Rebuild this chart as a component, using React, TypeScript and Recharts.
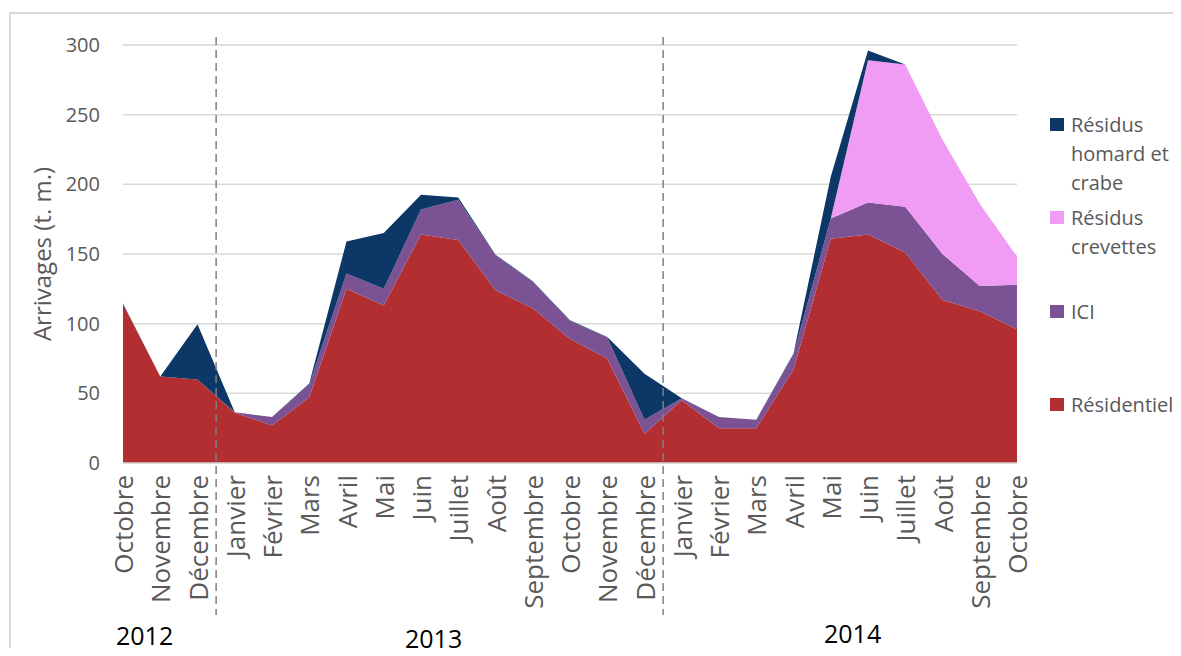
import React from 'react';
import { AreaChart, Area, XAxis, YAxis, CartesianGrid, ReferenceLine } from 'recharts';

const months = [
  'Octobre', 'Novembre', 'Décembre',
  'Janvier', 'Février', 'Mars', 'Avril', 'Mai', 'Juin', 'Juillet', 'Août', 'Septembre', 'Octobre', 'Novembre', 'Décembre',
  'Janvier', 'Février', 'Mars', 'Avril', 'Mai', 'Juin', 'Juillet', 'Août', 'Septembre', 'Octobre',
];

// t. m. par mois, empilées de bas en haut
const residentiel = [114, 62, 60, 36, 27, 47, 125, 113, 164, 160, 124, 111, 89, 75, 21, 45, 25, 25, 67, 161, 164, 151, 117, 109, 96];
const ici = [0, 0, 0, 0.5, 6, 9.5, 11, 12, 18, 29, 25, 19, 13, 15, 10, 1.5, 8, 6, 11, 14.5, 23, 33, 33, 18, 32];
const crevettes = [0, 0, 0, 0, 0, 0, 0, 0, 0, 0, 0, 0, 0, 0, 0, 0, 0, 0, 0, 0, 102, 102, 82, 59, 20];
const homard = [0.5, 0, 39.5, 0, 0, 0.5, 23, 40, 10.5, 1.5, 0.5, 0.5, 0.5, 0.5, 33, 0, 0, 0, 0.5, 30, 7, 0, 0, 0, 0];

const yTicks = [0, 50, 100, 150, 200, 250, 300];
const minorTicks = [0, 10, 20, 30, 40, 50, 60, 70, 80, 90, 100, 110, 120, 130, 140, 150, 160, 170, 180, 190, 200, 210, 220, 230, 240, 250, 260, 270, 280, 290, 300];
const yearBreaks = [2.5, 14.5];
const years = [
  { label: '2012', x: 116, y: 645 },
  { label: '2013', x: 405, y: 648 },
  { label: '2014', x: 824, y: 643 },
];

const series = [
  { key: 'Résidentiel', values: residentiel, color: '#B22E30' },
  { key: 'ICI', values: ici, color: '#7B5294' },
  { key: 'Résidus crevettes', values: crevettes, color: '#F09CF5' },
  { key: 'Résidus homard et crabe', values: homard, color: '#0C3766' },
];

const data = months.map((m, i) => {
  const row: Record<string, number | string> = { idx: i, month: m };
  series.forEach((s) => { row[s.key] = s.values[i]; });
  return row;
});

const FONT = '"Open Sans", sans-serif';
const GREY = '#595959';

const MonthTick = ({ x, y, payload }: any) => (
  <text
    x={x}
    y={y}
    transform={`rotate(-90 ${x} ${y})`}
    textAnchor="end"
    dominantBaseline="central"
    fill={GREY}
    fontSize={26}
    fontFamily={FONT}
  >
    {months[payload.value]}
  </text>
);

const DashedDivider = (props: any) => {
  const { x1, y1, y2 } = props;
  const top = Math.min(y1, y2);
  const bottom = Math.max(y1, y2);
  return (
    <line x1={x1} x2={x1} y1={top - 8} y2={bottom + 152} stroke="#808080" strokeWidth={1.5} strokeDasharray="8 5" />
  );
};

const App: React.FC = () => {
  const legendItems = [...series].reverse();
  return (
    <div style={{ position: 'relative', margin: -8, width: 1181, height: 656, overflow: 'hidden', fontFamily: FONT, background: '#fff' }}>
      <div style={{
        position: 'absolute', left: 9, top: 12, width: 2000, height: 2000,
        borderLeft: '2px solid #D9D9D9', borderTop: '2px solid #D9D9D9',
      }} />
      <AreaChart
        width={1181}
        height={656}
        data={data}
        margin={{ top: 45, right: 164, left: 63, bottom: 33 }}
        style={{ position: 'absolute', left: 0, top: 0 }}
      >
        <XAxis
          dataKey="idx"
          type="number"
          domain={[0, 24]}
          ticks={data.map((d) => d.idx as number)}
          interval={0}
          tick={<MonthTick />}
          tickLine={false}
          tickSize={0}
          tickMargin={12}
          axisLine={{ stroke: '#D9D9D9', strokeWidth: 1.5 }}
          height={160}
        />
        <YAxis
          yAxisId="main"
          domain={[0, 300]}
          ticks={yTicks}
          tickLine={false}
          axisLine={false}
          tickSize={0}
          tickMargin={23}
          width={60}
          tick={{ fill: GREY, fontSize: 20, fontFamily: FONT }}
          label={{ value: 'Arrivages (t. m.)', angle: -90, position: 'insideLeft', dx: -26, fill: GREY, fontSize: 24, fontFamily: FONT, style: { textAnchor: 'middle' } }}
        />
        <YAxis yAxisId="minor" hide domain={[0, 300]} ticks={minorTicks} />
        <CartesianGrid yAxisId="minor" vertical={false} stroke="#EFEFEF" strokeWidth={1.5} />
        <CartesianGrid yAxisId="main" vertical={false} stroke="#D9D9D9" strokeWidth={1.5} />
        {series.map((s) => (
          <Area
            key={s.key}
            yAxisId="main"
            type="linear"
            dataKey={s.key}
            stackId="a"
            stroke="none"
            fill={s.color}
            fillOpacity={1}
            dot={false}
            activeDot={false}
            isAnimationActive={false}
          />
        ))}
        {yearBreaks.map((b) => (
          <ReferenceLine key={b} x={b} yAxisId="main" ifOverflow="visible" shape={DashedDivider} />
        ))}
      </AreaChart>
      <svg width={1181} height={656} style={{ position: 'absolute', left: 0, top: 0, pointerEvents: 'none' }}>
        {years.map((y) => (
          <text key={y.label} x={y.x} y={y.y} fontSize={25} fontFamily={FONT} fill="#000">{y.label}</text>
        ))}
      </svg>
      {legendItems.map((s, i) => (
        <div
          key={s.key}
          style={{
            position: 'absolute', left: 1050, top: 110 + i * 93.3, width: 128,
            display: 'flex', alignItems: 'flex-start',
          }}
        >
          <span style={{ width: 14, height: 13, background: s.color, marginTop: 8, marginRight: 7, flex: 'none' }} />
          <span style={{ width: 108, fontSize: 20, lineHeight: '29px', color: GREY }}>{s.key}</span>
        </div>
      ))}
    </div>
  );
};

export default App;
